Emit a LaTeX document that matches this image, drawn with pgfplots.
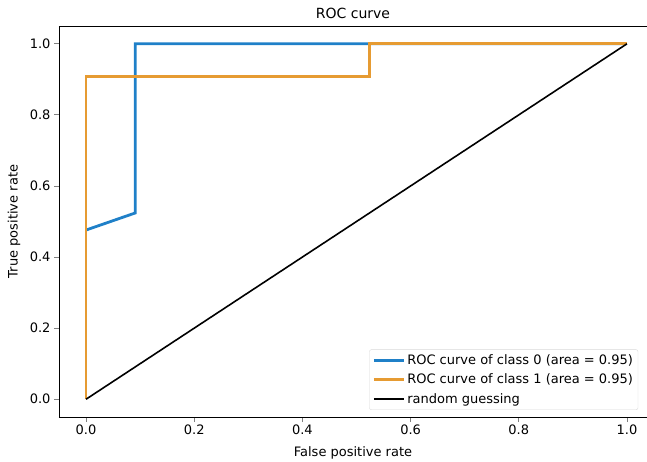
\documentclass[border=0pt]{standalone}
\usepackage{fontspec}
\setmainfont{DejaVu Sans}
\usepackage{pgfplots}
\pgfplotsset{compat=1.18}
\definecolor{mblue}{RGB}{31,128,200}
\definecolor{morange}{RGB}{230,155,50}
\begin{document}
\begin{tikzpicture}
\useasboundingbox (-59pt,-44pt) rectangle (588pt,417pt);
\begin{axis}[
  at={(0,0)}, anchor=south west,
  scale only axis,
  width=588pt, height=391pt,
  xmin=-0.05, xmax=1.037,
  ymin=-0.05, ymax=1.05,
  axis x line*=box, axis y line*=left,
  axis line style={line width=0.9pt},
  xtick={0,0.2,0.4,0.6,0.8,1.0},
  ytick={0,0.2,0.4,0.6,0.8,1.0},
  xticklabel style={/pgf/number format/fixed,/pgf/number format/fixed zerofill,/pgf/number format/precision=1},
  yticklabel style={/pgf/number format/fixed,/pgf/number format/fixed zerofill,/pgf/number format/precision=1},
  /pgf/number format/assume math mode=true,
  tick label style={font=\fontsize{13}{15}\selectfont},
  label style={font=\fontsize{13}{15}\selectfont},
  title style={font=\fontsize{14}{16}\selectfont, at={(0.5,1)}, anchor=center, yshift=7pt},
  xtick pos=bottom, ytick pos=left,
  tick align=outside,
  major tick length=5pt,
  tick style={line width=0.8pt},
  title={ROC curve},
  xlabel={False positive rate},
  ylabel={True positive rate},
  xlabel style={at={(0.5,0)}, anchor=center, yshift=-36pt},
  ylabel style={at={(0,0.5)}, anchor=center, yshift=45pt},
  xticklabel style={yshift=1pt},
  legend cell align=left,
  legend style={at={(rel axis cs:0.985,0.018)}, anchor=south east, font=\fontsize{13}{15}\selectfont, draw=black!15, rounded corners=2pt, row sep=4pt, inner sep=3pt},
  legend image code/.code={\draw[#1] (0pt,0pt) -- (30pt,0pt);},
]
\addplot[mblue, line width=2.8pt] coordinates {(0,0.476) (0.0909,0.524) (0.0909,1.0) (1,1)};
\addlegendentry{ROC curve of class 0 (area = 0.95)}
\addplot[morange, line width=2.8pt] coordinates {(0,0) (0,0.909) (0.524,0.909) (0.524,1.0) (1,1)};
\addlegendentry{ROC curve of class 1 (area = 0.95)}
\addplot[black, line width=1.6pt] coordinates {(0,0) (1,1)};
\addlegendentry{random guessing}
\end{axis}
\end{tikzpicture}
\end{document}
